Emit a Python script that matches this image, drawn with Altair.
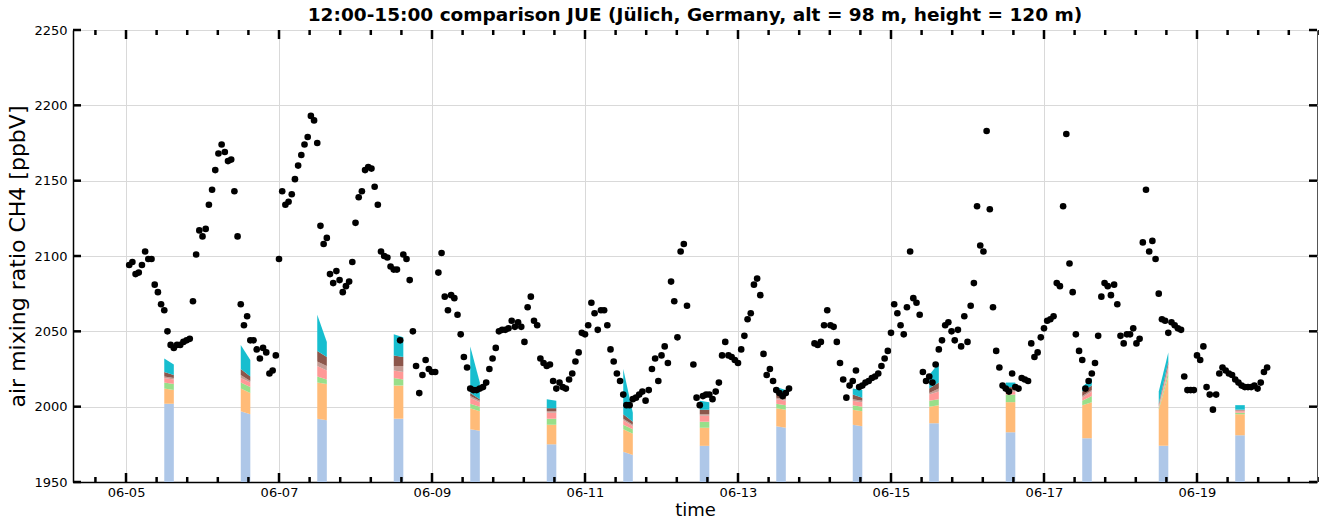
import altair as alt
import pandas as pd

# ---------------------------------------------------------------------------
# Observed CH4 at JUE, hourly samples (hours since 2023-06-05 00:00)
# ---------------------------------------------------------------------------
obs_hour = [
    1, 2, 3, 4, 5, 6, 7, 8, 9, 10, 11, 12, 13, 14, 15, 16, 17, 18, 19, 20,
    21, 22, 23, 24, 25, 26, 27, 28, 29, 30, 31, 32, 33, 34, 35, 36, 37, 38, 39, 40,
    41, 42, 43, 44, 45, 46, 47, 48, 49, 50, 51, 52, 53, 54, 55, 56, 57, 58, 59, 60,
    61, 62, 63, 64, 65, 66, 67, 68, 69, 70, 71, 72, 73, 74, 75, 76, 77, 78, 79, 80,
    81, 82, 83, 84, 85, 86, 87, 88, 89, 90, 91, 92, 93, 94, 95, 96, 97, 98, 99, 100,
    101, 102, 103, 104, 105, 106, 107, 108, 109, 110, 111, 112, 113, 114, 115, 116, 117, 118, 119, 120,
    121, 122, 123, 124, 125, 126, 127, 128, 129, 130, 131, 132, 133, 134, 135, 136, 137, 138, 139, 140,
    141, 142, 143, 144, 145, 146, 147, 148, 149, 150, 151, 152, 153, 154, 155, 156, 157, 158, 159, 160,
    161, 162, 163, 164, 165, 166, 167, 168, 169, 170, 171, 172, 173, 174, 175, 176, 178, 179, 180, 181,
    182, 183, 184, 185, 186, 187, 188, 189, 190, 191, 192, 193, 194, 195, 196, 197, 198, 199, 200, 201,
    202, 203, 204, 205, 206, 207, 208, 216, 217, 218, 219, 220, 221, 222, 223, 224, 225, 226, 227, 228,
    229, 230, 231, 232, 233, 234, 235, 236, 237, 238, 239, 240, 241, 242, 243, 244, 245, 246, 247, 248,
    249, 250, 251, 252, 253, 254, 255, 256, 257, 258, 259, 260, 261, 262, 263, 264, 265, 266, 267, 268,
    269, 270, 271, 272, 273, 274, 275, 276, 277, 278, 279, 280, 281, 282, 283, 284, 285, 286, 287, 288,
    289, 290, 291, 292, 293, 294, 295, 296, 297, 298, 299, 300, 301, 302, 303, 304, 305, 306, 307, 308,
    309, 310, 311, 312, 313, 314, 315, 316, 317, 318, 319, 320, 321, 322, 323, 324, 325, 326, 327, 328,
    329, 330, 331, 332, 333, 334, 335, 336, 337, 338, 339, 340, 341, 342, 343, 344, 345, 346, 347, 348,
    349, 350, 351, 352, 353, 354, 355, 356, 357, 358,
]
obs_ch4 = [
    2094, 2096, 2088, 2089, 2094, 2103, 2098, 2098, 2081, 2076, 2068, 2064, 2050, 2041, 2039, 2041, 2041, 2043, 2044, 2045,
    2070, 2101, 2117, 2113, 2118, 2134, 2144, 2157, 2168, 2174, 2169, 2163, 2164, 2143, 2113, 2068, 2054, 2060, 2044, 2044,
    2038, 2032, 2039, 2036, 2022, 2024, 2034, 2098, 2143, 2134, 2136, 2141, 2151, 2160, 2167, 2174, 2179, 2193, 2190, 2175,
    2120, 2108, 2112, 2088, 2082, 2090, 2084, 2076, 2080, 2083, 2096, 2122, 2139, 2143, 2157, 2159, 2158, 2146, 2134, 2103,
    2100, 2099, 2093, 2091, 2091, 2044, 2101, 2098, 2084, 2050, 2027, 2009, 2021, 2031, 2025, 2023, 2023, 2089, 2102, 2073,
    2064, 2074, 2072, 2061, 2048, 2033, 2026, 2012, 2011, 2011, 2012, 2013, 2016, 2025, 2032, 2039, 2050, 2051, 2051, 2052,
    2057, 2053, 2056, 2053, 2043, 2066, 2073, 2057, 2054, 2032, 2029, 2027, 2028, 2017, 2012, 2016, 2013, 2012, 2018, 2022,
    2030, 2036, 2049, 2048, 2054, 2069, 2062, 2051, 2064, 2064, 2054, 2038, 2030, 2022, 2017, 2008, 2001, 2001, 2005, 2006,
    2008, 2010, 2004, 2011, 2025, 2032, 2017, 2034, 2040, 2029, 2083, 2070, 2046, 2103, 2108, 2067, 2028, 2006, 2001, 2007,
    2008, 2008, 2005, 2010, 2016, 2034, 2043, 2034, 2033, 2031, 2029, 2038, 2047, 2058, 2062, 2081, 2085, 2074, 2035, 2021,
    2025, 2017, 2011, 2009, 2007, 2009, 2012, 2042, 2041, 2043, 2054, 2064, 2054, 2053, 2043, 2029, 2018, 2006, 2014, 2017,
    2024, 2013, 2014, 2016, 2017, 2019, 2020, 2022, 2027, 2032, 2037, 2049, 2068, 2062, 2054, 2048, 2066, 2103, 2072, 2069,
    2061, 2023, 2017, 2020, 2016, 2028, 2038, 2044, 2054, 2056, 2050, 2044, 2051, 2040, 2060, 2043, 2067, 2082, 2133, 2107,
    2103, 2183, 2131, 2066, 2037, 2026, 2014, 2012, 2010, 2022, 2013, 2012, 2019, 2018, 2017, 2042, 2033, 2036, 2046, 2052,
    2057, 2058, 2060, 2082, 2080, 2133, 2181, 2095, 2076, 2048, 2037, 2031, 2012, 2017, 2022, 2029, 2047, 2073, 2082, 2080,
    2074, 2081, 2068, 2047, 2042, 2048, 2048, 2052, 2042, 2045, 2109, 2144, 2103, 2110, 2098, 2075, 2058, 2057, 2049, 2056,
    2054, 2052, 2051, 2020, 2011, 2011, 2011, 2034, 2031, 2040, 2013, 2008, 1998, 2008, 2022, 2026, 2024, 2022, 2021, 2018,
    2016, 2014, 2013, 2013, 2013, 2014, 2012, 2016, 2023, 2026,
]

# ---------------------------------------------------------------------------
# Simulated 12:00-15:00 CH4, stacked by component (ppbV at 12:00, 15:00)
# ---------------------------------------------------------------------------
sim_days = [5, 6, 7, 8, 9, 10, 11, 12, 13, 14, 15, 16, 17, 18, 19]
sim_hours = [12, 15]

layer_names = ["background", "comp 1", "comp 2", "comp 3", "comp 4", "comp 5", "comp 6"]
layer_colors = ["#aec7e8", "#ffbb78", "#98df8a", "#ff9896", "#c49c94", "#8c564b", "#17becf"]

background = [(2002, 2002), (1997, 1995), (1992, 1991), (1992, 1992), (1985, 1984),
              (1975, 1975), (1970, 1968), (1974, 1974), (1987, 1986), (1988, 1987),
              (1989, 1989), (1983, 1983), (1979, 1979), (1974, 1974), (1981, 1981)]
comp_1 = [(10, 9), (15, 14), (24, 24), (22, 22), (14, 13), (13, 13), (15, 14), (12, 12),
          (12, 12), (10, 10), (11, 12), (20, 20), (22, 24), (24, 46), (14, 14)]
comp_2 = [(4, 4), (4, 4), (4, 3), (5, 4), (3, 3), (4, 4), (3, 3), (4, 4),
          (3, 3), (3, 3), (4, 4), (5, 5), (3, 4), (1, 3), (1, 1)]
comp_3 = [(3, 3), (3, 3), (7, 6), (5, 5), (4, 3), (4, 4), (3, 2), (4, 4),
          (3, 3), (3, 3), (4, 5), (2, 2), (2, 3), (1, 3), (1, 1)]
comp_4 = [(1, 1), (2, 1), (3, 3), (3, 4), (1, 1), (1, 1), (1, 1), (1, 1),
          (1, 1), (1, 1), (1, 2), (1, 1), (1, 1), (1, 2), (1, 1)]
comp_5 = [(3, 2), (4, 3), (7, 6), (7, 6), (2, 1), (2, 2), (3, 2), (3, 3),
          (3, 2), (3, 2), (3, 4), (2, 2), (3, 3), (1, 2), (0, 0)]
comp_6 = [(9, 7), (16, 11), (24, 10), (14, 13), (31, 11), (6, 5), (30, 6), (6, 5),
          (4, 4), (4, 5), (9, 13), (3, 3), (3, 5), (8, 6), (3, 3)]
layers = [background, comp_1, comp_2, comp_3, comp_4, comp_5, comp_6]

T0 = pd.Timestamp("2023-06-05 00:00")

obs = pd.DataFrame({
    "time": [T0 + pd.Timedelta(hours=h) for h in obs_hour],
    "ch4": obs_ch4,
})

rows = []
for i, d in enumerate(sim_days):
    for k, (name, vals) in enumerate(zip(layer_names, layers)):
        for j, h in enumerate(sim_hours):
            rows.append({
                "time": T0 + pd.Timedelta(days=d - 5, hours=h),
                "day": d,
                "layer": name,
                "order": k,
                "value": vals[i][j],
            })
sim = pd.DataFrame(rows)

# tick positions: majors every 2 days, minors every 0.4 day
major_t = [T0 + pd.Timedelta(days=d - 5) for d in range(5, 20, 2)]
minor_t = [T0 + pd.Timedelta(hours=9.6 * k) for k in range(-1, 40) if k % 5 != 0]
y_ticks = list(range(1950, 2251, 50))

W, H = 1244, 452
FONT = "DejaVu Sans"

x_scale = alt.Scale(domain=[alt.DateTime(year=2023, month=6, date=4, hours=7, minutes=22),
                            alt.DateTime(year=2023, month=6, date=20, hours=13, minutes=39)])
y_scale = alt.Scale(domain=[1950, 2250], nice=False, zero=False)

x_axis = alt.Axis(
    values=[alt.DateTime(year=2023, month=6, date=d) for d in range(5, 20, 2)],
    format="%m-%d", title="time", grid=True, ticks=False,
    labelPadding=4, titlePadding=2, titleFontSize=18,
)
y_axis = alt.Axis(
    values=y_ticks, format="d", title="air mixing ratio CH4 [ppbV]", grid=True, ticks=False,
    labelPadding=6, titlePadding=4, titleFontSize=22,
)

areas = alt.Chart(sim).transform_window(
    top="sum(value)", frame=[None, 0], groupby=["time"], sort=[alt.SortField("order")]
).transform_calculate(
    bottom="datum.top - datum.value"
).mark_area(clip=True, opacity=1, interpolate="linear").encode(
    x=alt.X("time:T", scale=x_scale, axis=x_axis),
    y=alt.Y("top:Q", scale=y_scale, axis=y_axis),
    y2="bottom:Q",
    color=alt.Color("layer:N", scale=alt.Scale(domain=layer_names, range=layer_colors), legend=None),
    detail="day:N",
)

points = alt.Chart(obs).mark_circle(size=44, color="black", opacity=1).encode(
    x=alt.X("time:T", scale=x_scale, axis=x_axis),
    y=alt.Y("ch4:Q", scale=y_scale, axis=y_axis),
)


def x_ticks(times, length, top):
    df = pd.DataFrame({"time": times})
    y0, y1 = (0, length) if top else (H, H - length)
    return alt.Chart(df).mark_rule(color="black", strokeWidth=2.5).encode(
        x=alt.X("time:T", scale=x_scale, axis=x_axis),
        y=alt.value(y0), y2=alt.value(y1),
    )


def y_tick_marks(right):
    df = pd.DataFrame({"ch4": y_ticks})
    x0, x1 = (W, W - 8) if right else (0, 8)
    return alt.Chart(df).mark_rule(color="black", strokeWidth=2.5).encode(
        y=alt.Y("ch4:Q", scale=y_scale, axis=y_axis),
        x=alt.value(x0), x2=alt.value(x1),
    )


chart = alt.layer(
    areas, points,
    x_ticks(major_t, 9, False), x_ticks(minor_t, 5, False),
    x_ticks(major_t, 9, True), x_ticks(minor_t, 5, True),
    y_tick_marks(False), y_tick_marks(True),
).properties(
    width=W, height=H,
    background="white",
    padding={"left": 73, "top": 30, "right": 2, "bottom": 38},
    autosize=alt.AutoSizeParams(type="none"),
    title=alt.TitleParams(
        "12:00-15:00 comparison JUE (Jülich, Germany, alt = 98 m, height = 120 m)",
        font=FONT, fontSize=18.5, fontWeight="bold", anchor="middle", offset=0, color="black",
    ),
).configure_axis(
    labelFont=FONT, titleFont=FONT, labelFontSize=13,
    labelColor="black", titleColor="black", titleFontWeight="normal",
    gridColor="#d9d9d9", gridWidth=1, domainColor="black", domainWidth=1.5,
).configure_view(
    stroke="#555555", strokeWidth=1,
)

chart.save("out.html", embed_options={"renderer": "svg", "actions": False})
